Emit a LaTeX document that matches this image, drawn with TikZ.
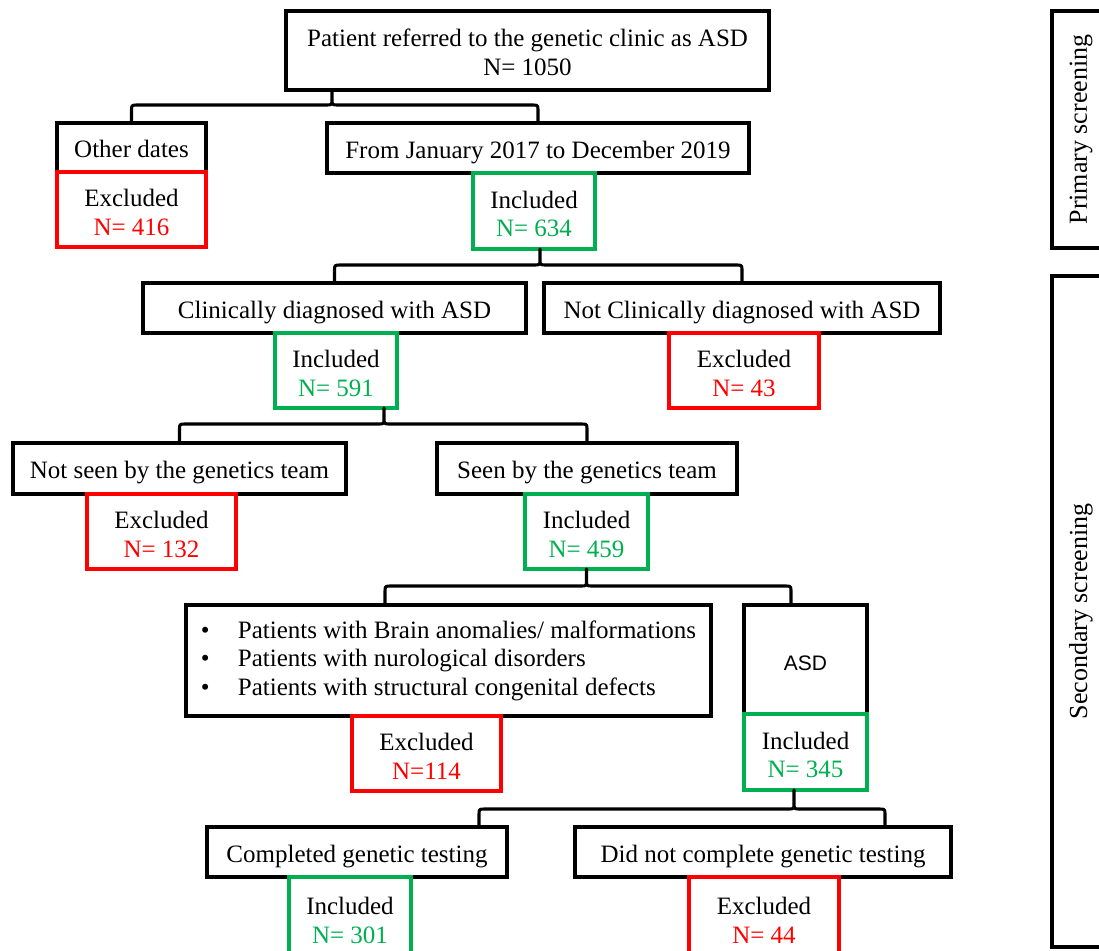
\documentclass[tikz,border=0pt]{standalone}
\usepackage{fontspec}
\usepackage{graphicx}
\setmainfont{Liberation Serif}
\newfontfamily\arialfont{Liberation Sans}
\usetikzlibrary{calc}
\definecolor{exred}{RGB}{255,0,0}
\definecolor{exgreen}{RGB}{0,176,80}
\tikzset{
  base/.style={rectangle, line width=3.1pt, inner sep=0pt, outer sep=0pt, align=center, font=\fontsize{25}{28.5}\selectfont},
  blackbox/.style={base, draw=black},
  oneline/.style={text height=20pt, text depth=0pt},
  redbox/.style={base, draw=exred},
  greenbox/.style={base, draw=exgreen},
  conn/.style={line width=3.1pt, draw=black, line join=round, line cap=round},
  sz/.style 2 args={minimum width=#1pt, minimum height=#2pt},
}
% two-line label: black first line, coloured count, lowered a little
\newcommand{\twoline}[3]{\rule{0pt}{23pt}#1\\\textcolor{#3}{#2}}
% #1 cusp (top) coordinate, #2 left end, #3 right end, #4 y of horizontal bar (px from top)
\newcommand{\bracelink}[4]{%
  \draw[conn] let \p1=(#1), \p2=(#2), \p3=(#3) in
    (\p2) -- (\x2,{-#4pt-6pt}) .. controls (\x2,{-#4pt}) .. ({\x2+6pt},{-#4pt})
    -- ({\x1-6pt},{-#4pt}) .. controls (\x1,{-#4pt}) .. (\x1,{-#4pt+6pt}) -- (\p1)
    (\x1,{-#4pt+6pt}) .. controls (\x1,{-#4pt}) .. ({\x1+6pt},{-#4pt})
    -- ({\x3-6pt},{-#4pt}) .. controls (\x3,{-#4pt}) .. (\x3,{-#4pt-6pt}) -- (\p3);
}
\begin{document}
\begin{tikzpicture}[x=1pt,y=-1pt]
\useasboundingbox[fill=white] (0,0) rectangle (1099,950);

% black boxes
\node[blackbox, sz={483}{79}] (top) at (527.5,50.5) {\rule{0pt}{21pt}Patient referred to the genetic clinic as ASD\\[1pt]N= 1050};
\node[blackbox, oneline, sz={149}{49}] (other) at (131.5,147.5) {Other dates};
\node[blackbox, oneline, sz={422}{50}] (jan) at (538,148) {From January 2017 to December 2019};
\node[blackbox, oneline, sz={383}{50}] (clin) at (334.5,308) {Clinically diagnosed with ASD};
\node[blackbox, oneline, sz={396}{50}] (notclin) at (742,308) {Not Clinically diagnosed with ASD};
\node[blackbox, oneline, sz={333}{51}] (notseen) at (179.5,468.5) {Not seen by the genetics team};
\node[blackbox, oneline, sz={300}{51}] (seen) at (587,468.5) {Seen by the genetics team};
\node[blackbox, sz={525}{111}, align=left] (bul) at (448.5,660.5) {%
  \makebox[37pt][l]{\textbullet}Patients with Brain anomalies/ malformations\\
  \makebox[37pt][l]{\textbullet}Patients with nurological disorders\\
  \makebox[37pt][l]{\textbullet}Patients with structural congenital defects};
\node[blackbox, sz={123}{109}, font=\arialfont\fontsize{21}{24}\selectfont, text height=21pt, text depth=0pt] (asd) at (805.5,659.5) {ASD};
\node[blackbox, oneline, sz={300}{50}] (compl) at (357,852) {Completed genetic testing};
\node[blackbox, oneline, sz={376}{50}] (notcompl) at (763,852) {Did not complete genetic testing};

% coloured boxes
\node[redbox, sz={149}{75}] (exc416) at (131.5,209.5) {\twoline{Excluded}{N= 416}{exred}};
\node[greenbox, sz={122}{76}] (inc634) at (534,211) {\twoline{Included}{N= 634}{exgreen}};
\node[greenbox, sz={122}{75}] (inc591) at (336,370.5) {\twoline{Included}{N= 591}{exgreen}};
\node[redbox, sz={150}{75}] (exc43) at (744,370.5) {\twoline{Excluded}{N= 43}{exred}};
\node[redbox, sz={149}{75}] (exc132) at (161.5,531.5) {\twoline{Excluded}{N= 132}{exred}};
\node[greenbox, sz={123}{75}] (inc459) at (586.5,531.5) {\twoline{Included}{N= 459}{exgreen}};
\node[redbox, sz={149}{75}] (exc114) at (426.5,753.5) {\twoline{Excluded}{N=114}{exred}};
\node[greenbox, sz={123}{76}] (inc345) at (805.5,752) {\twoline{Included}{N= 345}{exgreen}};
\node[greenbox, sz={122}{81}] (inc301) at (350,917.5) {\twoline{Included}{N= 301}{exgreen}};
\node[redbox, sz={150}{81}] (exc44) at (764,917.5) {\twoline{Excluded}{N= 44}{exred}};

% side boxes
\node[blackbox, sz={58}{237}, font=\fontsize{26}{30}\selectfont] (prim) at (1081,129.5) {\rotatebox{90}{Primary screening}};
\node[blackbox, sz={58}{671}, font=\fontsize{26}{30}\selectfont] (sec) at (1081,611.5) {\rotatebox{90}{Secondary screening}};

% brace connectors
\coordinate (c1) at (332,0 |- top.south);
\bracelink{c1}{other.north}{jan.north}{105}
\coordinate (c2) at (540,0 |- inc634.south);
\bracelink{c2}{clin.north}{notclin.north}{265}
\coordinate (c3) at (384,0 |- inc591.south);
\bracelink{c3}{notseen.north}{seen.north}{424}
\coordinate (l4) at (385,0 |- bul.north);
\coordinate (r4) at (791,0 |- asd.north);
\bracelink{inc459.south}{l4}{r4}{586}
\coordinate (c5) at (794,0 |- inc345.south);
\coordinate (l5) at (479,0 |- compl.north);
\coordinate (r5) at (885,0 |- notcompl.north);
\bracelink{c5}{l5}{r5}{809}
\end{tikzpicture}
\end{document}
